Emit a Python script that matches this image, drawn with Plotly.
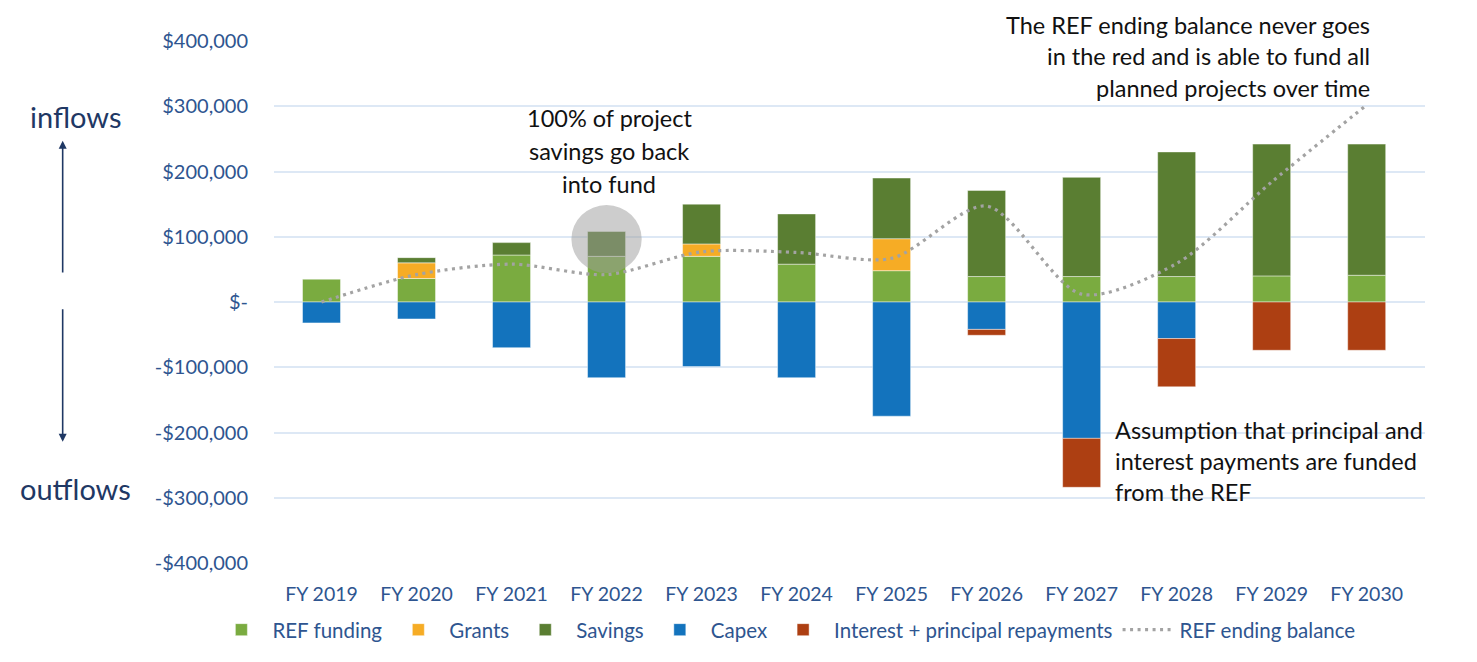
import plotly.graph_objects as go

years = ["FY 2019", "FY 2020", "FY 2021", "FY 2022", "FY 2023", "FY 2024",
         "FY 2025", "FY 2026", "FY 2027", "FY 2028", "FY 2029", "FY 2030"]

ref_funding = [35000, 36000, 72000, 70000, 70000, 58000, 48000, 39000, 39000, 39000, 40000, 41000]
grants = [None, 24000, None, None, 19000, None, 49000, None, None, None, None, None]
savings = [None, 8000, 19000, 38000, 61000, 77000, 93000, 132000, 152000, 191000, 202000, 201000]
capex = [-32000, -26000, -70000, -116000, -99000, -116000, -175000, -42000, -209000, -56000, None, None]
repayments = [None, None, None, None, None, None, None, -9000, -75000, -74000, -74000, -74000]
ending_balance = [0, 42000, 58000, 42000, 77000, 76000, 67000, 147000, 12000, 59000, 184000, 302000]

tick_vals = [400000, 300000, 200000, 100000, 0, -100000, -200000, -300000, -400000]
tick_text = ["$400,000", "$300,000", "$200,000", "$100,000", "$-",
             "-$100,000", "-$200,000", "-$300,000", "-$400,000"]

FONT = "Lato, 'Open Sans', sans-serif"
AXIS_BLUE = "#2e5590"
NAVY = "#1f3864"
EDGE = dict(color="rgba(255,255,255,0.45)", width=1)

fig = go.Figure()
fig.add_trace(go.Bar(name="REF funding", x=years, y=ref_funding,
                     marker=dict(color="#7aab40", line=EDGE)))
fig.add_trace(go.Bar(name="Grants", x=years, y=grants,
                     marker=dict(color="#f6ac25", line=EDGE)))
fig.add_trace(go.Bar(name="Savings", x=years, y=savings,
                     marker=dict(color="#5a7e32", line=EDGE)))
fig.add_trace(go.Bar(name="Capex", x=years, y=capex,
                     marker=dict(color="#1373bd", line=EDGE)))
fig.add_trace(go.Bar(name="Interest + principal repayments", x=years, y=repayments,
                     marker=dict(color="#ad3f12", line=EDGE)))
fig.add_trace(go.Scatter(name="REF ending balance", x=years, y=ending_balance,
                         mode="lines",
                         line=dict(color="#a3a3a3", width=3.2, dash="3px,4.5px",
                                   shape="spline", smoothing=0.8)))

# grey highlight over FY 2022 savings
fig.add_shape(type="circle", xref="x", yref="y",
              x0=3 - 0.37, x1=3 + 0.37, y0=44500, y1=148500,
              fillcolor="rgba(155,155,155,0.5)", line=dict(width=0), layer="above")


# callout texts, one annotation per line; y given in axis units, drawn in paper units
# so lines above the axis range still show
def py(v):
    return (v + 400000) / 800000


callouts = [
    (3.03, [282400, 231900, 181300], "center",
     ["100% of project", "savings go back", "into fund"]),
    (11.06, [425000, 377500, 328400], "right",
     ["The REF ending balance never goes", "in the red and is able to fund all",
      "planned projects over time"]),
    (8.33, [-195700, -243200, -290700], "left",
     ["Assumption that principal and", "interest payments are funded", "from the REF"]),
]
for x, ys, anchor, lines in callouts:
    for y, line in zip(ys, lines):
        fig.add_annotation(xref="x", yref="paper", x=x, y=py(y), text=line, showarrow=False,
                           xanchor=anchor, yanchor="middle",
                           font=dict(family=FONT, size=23.5, color="#111111"))

# inflows / outflows side labels
fig.add_annotation(xref="paper", yref="y", x=-0.1723, y=284000, text="inflows",
                   xanchor="center", yanchor="middle", showarrow=False,
                   font=dict(family=FONT, size=29, color=NAVY))
fig.add_annotation(xref="paper", yref="y", x=-0.1723, y=-286000, text="outflows",
                   xanchor="center", yanchor="middle", showarrow=False,
                   font=dict(family=FONT, size=29, color=NAVY))
fig.add_annotation(xref="paper", yref="y", x=-0.1836, y=247000, text="",
                   showarrow=True, axref="pixel", ayref="y", ax=0, ay=43000,
                   arrowhead=2, arrowsize=1, arrowwidth=1.6, arrowcolor=NAVY)
fig.add_annotation(xref="paper", yref="y", x=-0.1836, y=-214000, text="",
                   showarrow=True, axref="pixel", ayref="y", ax=0, ay=-9000,
                   arrowhead=2, arrowsize=1, arrowwidth=1.6, arrowcolor=NAVY)

fig.update_layout(
    barmode="relative",
    bargap=0.6,
    width=1477, height=662,
    margin=dict(l=274, r=52, t=41, b=99),
    paper_bgcolor="white", plot_bgcolor="white",
    font=dict(family=FONT, color=AXIS_BLUE),
    legend=dict(orientation="h", x=0.4443, xanchor="center", y=-0.128, yanchor="middle",
                font=dict(size=20.5, color=AXIS_BLUE), traceorder="normal",
                itemwidth=52),
    showlegend=True,
)
fig.update_xaxes(showgrid=False, showline=False, ticks="", ticklabelstandoff=17,
                 tickfont=dict(size=19.5, color=AXIS_BLUE))
fig.update_yaxes(range=[-400000, 400000], tickvals=tick_vals, ticktext=tick_text,
                 showgrid=True, gridcolor="#dde8f5", gridwidth=1.5,
                 zeroline=True, zerolinecolor="#dde8f5", zerolinewidth=1.5,
                 ticks="", ticklabelstandoff=25,
                 tickfont=dict(size=20, color=AXIS_BLUE))

# drop the default page margin so the figure fills the window exactly
fig.write_html("out.html", config={"displayModeBar": False},
               post_script="document.body.style.margin='0';document.body.style.overflow='hidden';")
